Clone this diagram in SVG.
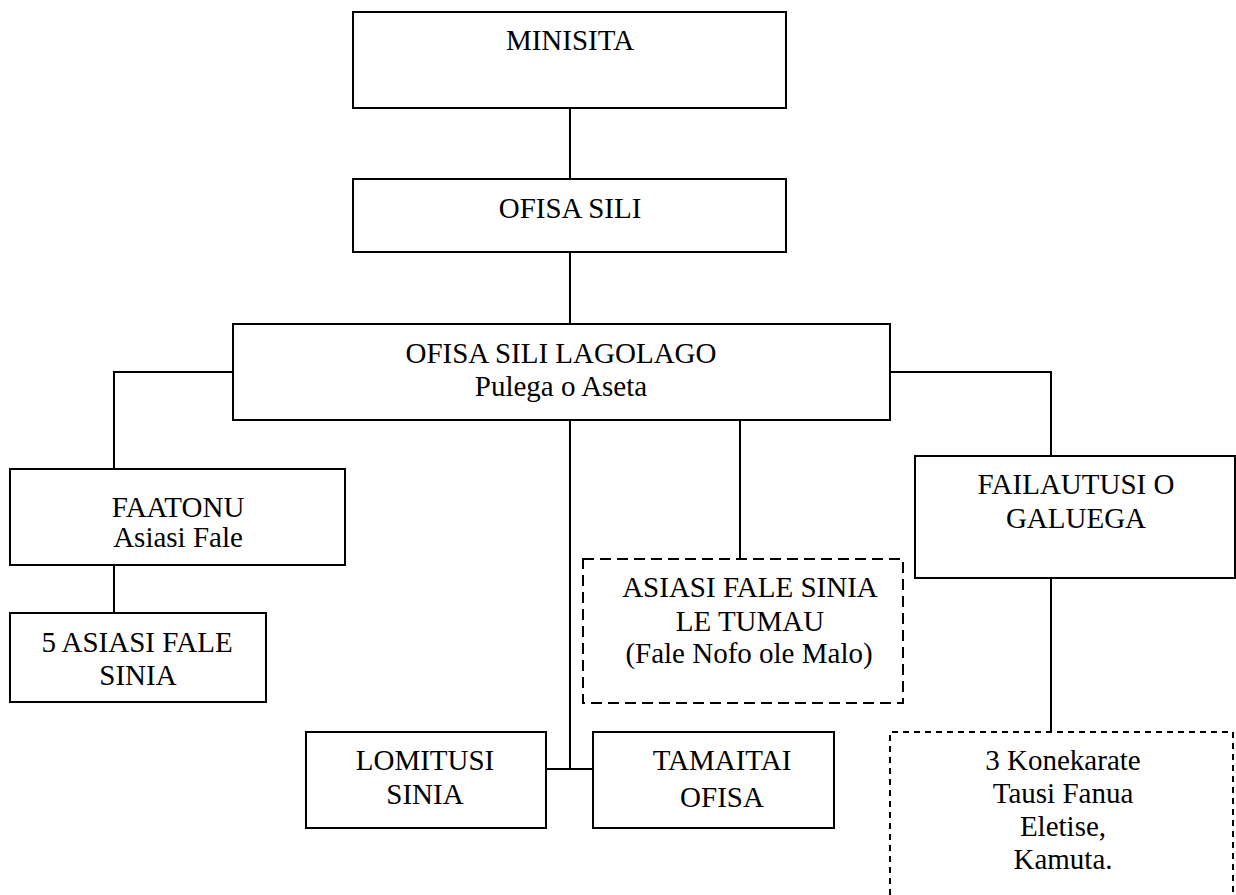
<svg xmlns="http://www.w3.org/2000/svg" width="1236" height="895" viewBox="0 0 1236 895">
<style>
.box{fill:#fff;stroke:#000;stroke-width:2}
.dash{fill:#fff;stroke:#000;stroke-width:2;stroke-dasharray:11 6}
.dash2{fill:none;stroke:#000;stroke-width:2;stroke-dasharray:6 5}
.ln{fill:none;stroke:#000;stroke-width:2}
.t{font-family:'Liberation Serif','Times New Roman',serif;font-size:29px;fill:#000;text-anchor:middle}
</style>
<rect width="1236" height="895" fill="#fff"/>
<g id="connectors">
<path class="ln" d="M570,108 V179"/>
<path class="ln" d="M570,252 V324"/>
<path class="ln" d="M233,372 H114 V469"/>
<path class="ln" d="M114,565 V613"/>
<path class="ln" d="M570,420 V769"/>
<path class="ln" d="M546,769 H593"/>
<path class="ln" d="M740,420 V559"/>
<path class="ln" d="M890,372 H1051 V456"/>
<path class="ln" d="M1051,578 V732"/>
</g>
<g class="t" font-family="Liberation Serif, serif" font-size="29" text-anchor="middle">
<g id="minisita">
<rect class="box" x="353" y="12" width="433" height="96"/>
<text x="570" y="50">MINISITA</text>
</g>
<g id="ofisa-sili">
<rect class="box" x="353" y="179" width="433" height="73"/>
<text x="570" y="218">OFISA SILI</text>
</g>
<g id="ofisa-sili-lagolago">
<rect class="box" x="233" y="324" width="657" height="96"/>
<text x="561" y="363">OFISA SILI LAGOLAGO</text>
<text x="561" y="396">Pulega o Aseta</text>
</g>
<g id="faatonu">
<rect class="box" x="10" y="469" width="335" height="96"/>
<text x="178" y="517">FAATONU</text>
<text x="178" y="547">Asiasi Fale</text>
</g>
<g id="asiasi-fale-sinia-5">
<rect class="box" x="10" y="613" width="256" height="89"/>
<text x="137" y="652">5 ASIASI FALE</text>
<text x="138" y="685">SINIA</text>
</g>
<g id="asiasi-fale-sinia-le-tumau">
<rect class="dash" x="583" y="559" width="320" height="144"/>
<text x="750" y="597">ASIASI FALE SINIA</text>
<text x="750" y="631">LE TUMAU</text>
<text x="749" y="663">(Fale Nofo ole Malo)</text>
</g>
<g id="failautusi">
<rect class="box" x="915" y="456" width="320" height="122"/>
<text x="1076" y="494">FAILAUTUSI O</text>
<text x="1076" y="528">GALUEGA</text>
</g>
<g id="lomitusi">
<rect class="box" x="306" y="732" width="240" height="96"/>
<text x="425" y="770">LOMITUSI</text>
<text x="425" y="804">SINIA</text>
</g>
<g id="tamaitai">
<rect class="box" x="593" y="732" width="241" height="96"/>
<text x="722" y="770">TAMAITAI</text>
<text x="722" y="807">OFISA</text>
</g>
<g id="konekarate">
<path class="dash2" d="M890,895 V732 H1233 V895"/>
<text x="1063" y="770">3 Konekarate</text>
<text x="1063" y="803">Tausi Fanua</text>
<text x="1063" y="836">Eletise,</text>
<text x="1063" y="869">Kamuta.</text>
</g>
</g>
</svg>
